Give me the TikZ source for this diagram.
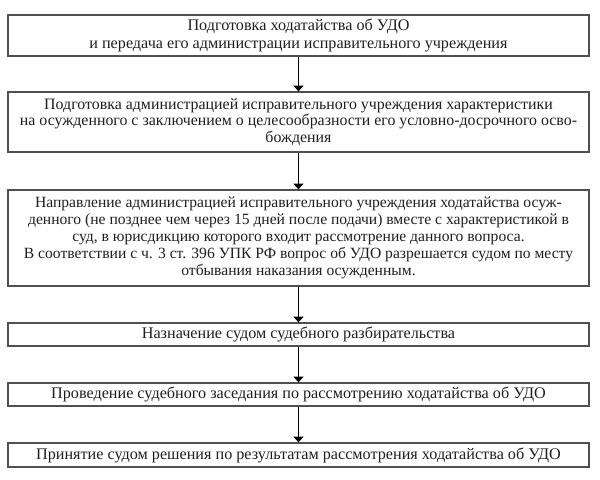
\documentclass[tikz,border=0pt]{standalone}
\usepackage{fontspec}
\setmainfont{Liberation Serif}
\usetikzlibrary{arrows.meta}
\definecolor{frame}{RGB}{80, 80, 80}
\definecolor{ink}{RGB}{30, 30, 30}
\tikzset{%
    stage/.style={%
        draw=frame, line width=0.9pt, text=ink, align=center,
        minimum width=14.525cm, inner sep=0pt,
        font=\fontsize{11.5}{12.8}\selectfont
    },
    flow/.style={-{Triangle[length=4pt, width=7pt]}, black, line width=0.6pt}
}

\begin{document}
\begin{tikzpicture}[x=0.025cm, y=-0.025cm]

    \useasboundingbox (0, 0) rectangle (600, 480);

    % Steps
    \node[stage, minimum height=1.025cm] (petition) at (298.5, 35.5)
        {Подготовка ходатайства об УДО\\
         и передача его администрации исправительного учреждения};

    \node[stage, minimum height=1.5cm,
          font=\fontsize{11.3}{11.9}\selectfont] (report) at (298.5, 122)
        {Подготовка администрацией исправительного учреждения характеристики\\
         на осужденного с заключением о целесообразности его условно-досрочного осво-\\
         бождения};

    \node[stage, minimum height=2.4cm,
          font=\fontsize{11.1}{12.2}\selectfont] (court) at (298.5, 238)
        {Направление администрацией исправительного учреждения ходатайства осуж-\\
         денного (не позднее чем через 15 дней после подачи) вместе с характеристикой в\\
         суд, в юрисдикцию которого входит рассмотрение данного вопроса.\\
         В соответствии с ч. 3 ст. 396 УПК РФ вопрос об УДО разрешается судом по месту\\
         отбывания наказания осужденным.};

    \node[stage, minimum height=0.575cm] (hearing) at (298.5, 334.5)
        {Назначение судом судебного разбирательства};

    \node[stage, minimum height=0.575cm] (session) at (298.5, 394.5)
        {Проведение судебного заседания по рассмотрению ходатайства об УДО};

    \node[stage, minimum height=0.6cm] (decision) at (298.5, 455)
        {Принятие судом решения по результатам рассмотрения ходатайства об УДО};

    % Arrows
    \draw[flow] (petition) -- (report);
    \draw[flow] (report) -- (court);
    \draw[flow] (court) -- (hearing);
    \draw[flow] (hearing) -- (session);
    \draw[flow] (session) -- (decision);

\end{tikzpicture}
\end{document}
